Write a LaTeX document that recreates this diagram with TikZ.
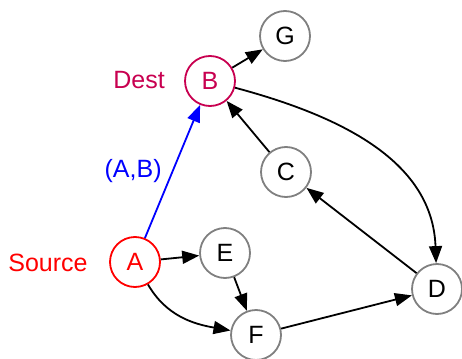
\documentclass[tikz,border=0pt]{standalone}
\usepackage{fontspec}
\setmainfont{Liberation Sans}
\usetikzlibrary{arrows.meta}
\definecolor{destc}{RGB}{200,0,80}
\definecolor{nodegray}{RGB}{128,128,128}
\tikzset{
  vert/.style={circle, draw=nodegray, line width=1.8pt, minimum size=50pt, inner sep=0pt, font=\fontsize{25}{30}\selectfont, fill=white},
  lbl/.style={font=\fontsize{25}{30}\selectfont, inner sep=0pt},
  edge/.style={line width=1.8pt, -{Triangle[length=17pt,width=13pt]}},
}
\begin{document}
\begin{tikzpicture}[x=1pt,y=-1pt]
\useasboundingbox (0,0) rectangle (462,358);
\node[vert] (G) at (285,36) {G};
\node[vert, draw=destc, text=destc] (B) at (210,81) {B};
\node[vert] (C) at (286,172) {C};
\node[vert, draw=red, text=red] (A) at (135,262) {A};
\node[vert] (E) at (225,253) {E};
\node[vert] (F) at (256,335) {F};
\node[vert] (D) at (437,289) {D};
\node[lbl, text=destc] (destlbl) at (139,80) {Dest};
\node[lbl, text=red] (srclbl) at (48,263) {Source};
\draw[edge] (B) -- (G);
\draw[edge] (B) to[out=-15, in=92] (D);
\draw[edge] (C) -- (B);
\draw[edge] (D) -- (C);
\draw[edge, blue] (A) -- node[lbl, pos=0.5, left=10pt] {(A,B)} (B);
\draw[edge] (A) -- (E);
\draw[edge] (E) -- (F);
\draw[edge] (A) to[out=-60, in=170] (F);
\draw[edge] (F) -- (D);
\end{tikzpicture}
\end{document}
